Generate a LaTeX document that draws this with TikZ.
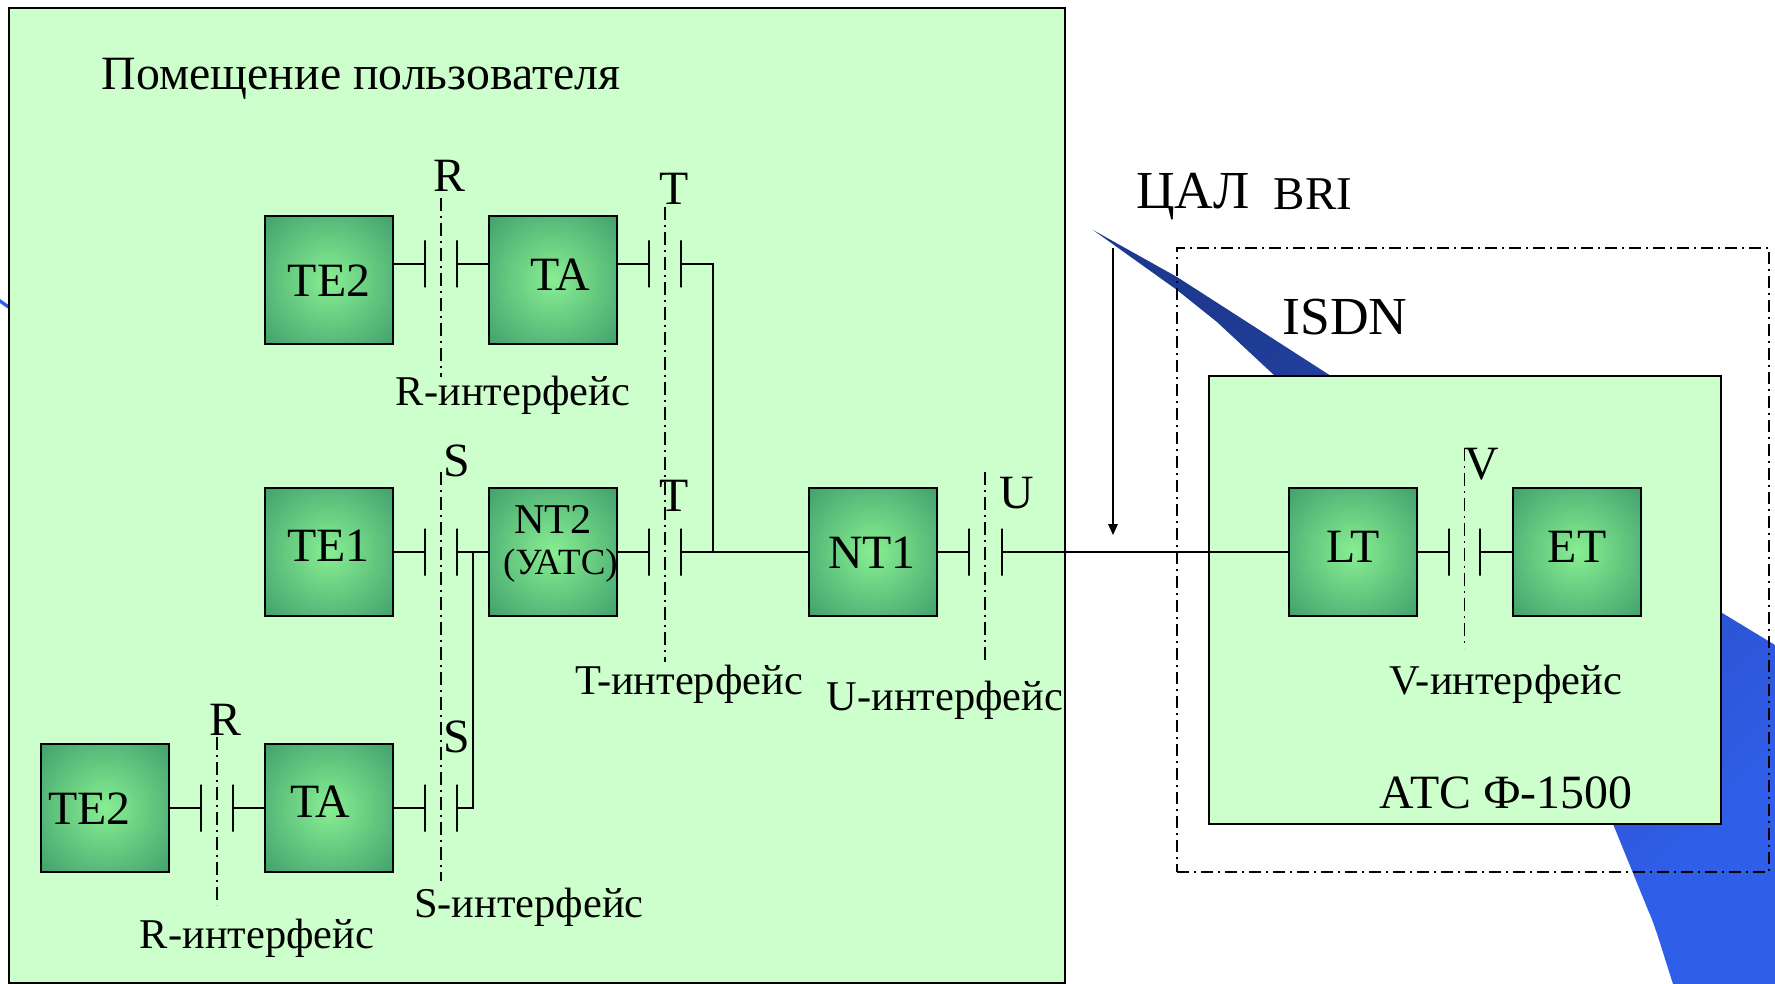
\documentclass[tikz,border=0pt]{standalone}
\usepackage{fontspec}
\setmainfont{Liberation Serif}
\definecolor{panel}{HTML}{CCFFCC}
\definecolor{boxin}{HTML}{88EE92}
\definecolor{boxout}{HTML}{40A06C}
\definecolor{blueA}{HTML}{1E3A90}
\definecolor{blueM}{HTML}{2748B8}
\definecolor{blueB}{HTML}{2F5EE8}
\pgfdeclareradialshading{unitglow}{\pgfpointorigin}{color(0bp)=(boxin); color(36bp)=(boxout); color(70.7bp)=(boxout)}
\tikzset{
  panelbox/.style={draw=black,line width=2pt,fill=panel,inner sep=0pt},
  unit/.style={draw=black,line width=2.1pt,inner sep=0pt,minimum width=128pt,minimum height=128pt,shading=unitglow},
  plate/.style={draw=black,line width=1.5pt,inner sep=0pt,minimum width=0pt,minimum height=47pt,outer sep=0pt},
  wire/.style={draw=black,line width=1.7pt},
  iface/.style={draw=black,line width=1.4pt,dash pattern=on 13pt off 5pt on 2pt off 5pt},
  boundary/.style={draw=black,line width=1.7pt,dash pattern=on 12pt off 5pt on 2pt off 5pt},
  lblL/.style={inner sep=0pt,font=\fontsize{53.5}{53.5}\selectfont},
  lbl/.style={inner sep=0pt,font=\fontsize{47.8}{47.8}\selectfont},
  lblB/.style={inner sep=0pt,font=\fontsize{47}{47}\selectfont},
  lblS/.style={inner sep=0pt,font=\fontsize{42.4}{42.4}\selectfont},
  lblX/.style={inner sep=0pt,font=\fontsize{37}{37}\selectfont},
}
\begin{document}
\begin{tikzpicture}[x=1pt,y=-1pt]
\useasboundingbox (0,0) rectangle (1775,984);
% background swoosh
\shade[shading=axis,bottom color=blueB,top color=blueA,middle color=blueM,shading angle=45]
  (1093,230) -- (1177,277) -- (1331,376) -- (1775,645) -- (1775,984) -- (1673,984)
  .. controls (1662,950) and (1655,925) .. (1648,910) -- (1613,824) -- (1400,500) -- (1275,376)
  -- (1217,322) -- (1177,290) -- cycle;
\fill[blueB] (0,299) -- (10,306) -- (10,310) -- (0,303) -- cycle;
% panels
\node[panelbox,minimum width=1056pt,minimum height=975pt] (user) at (537,495.5) {};
\node[panelbox,minimum width=512pt,minimum height=448pt] (ats) at (1465,600) {};
\node[boundary,rectangle,inner sep=0pt,minimum width=592pt,minimum height=624pt] (isdn) at (1473,560) {};
% units
\node[unit] (te2a) at (329,280) {};
\node[unit] (taa) at (553,280) {};
\node[unit] (te1) at (329,552) {};
\node[unit] (nt2) at (553,552) {};
\node[unit] (nt1) at (873,552) {};
\node[unit] (te2b) at (105,808) {};
\node[unit] (tab) at (329,808) {};
\node[unit] (lt) at (1353,552) {};
\node[unit] (et) at (1577,552) {};
% plates
\node[plate] (p1l) at (425,264) {};
\node[plate] (p1r) at (457,264) {};
\node[plate] (p2l) at (649,264) {};
\node[plate] (p2r) at (681,264) {};
\node[plate] (p3l) at (425,552) {};
\node[plate] (p3r) at (457,552) {};
\node[plate] (p4l) at (649,552) {};
\node[plate] (p4r) at (681,552) {};
\node[plate] (p5l) at (969,552) {};
\node[plate] (p5r) at (1002,552) {};
\node[plate] (p6l) at (201,808) {};
\node[plate] (p6r) at (233,808) {};
\node[plate] (p7l) at (425,808) {};
\node[plate] (p7r) at (457,808) {};
\node[plate] (p8l) at (1449,552) {};
\node[plate] (p8r) at (1480,552) {};
% connectors
\draw[wire] (te2a.east |- p1l) -- (p1l);
\draw[wire] (p1r) -- (taa.west |- p1r);
\draw[wire] (taa.east |- p2l) -- (p2l);
\draw[wire] (p2r) -| (713,552);
\draw[wire] (te1.east) -- (p3l);
\draw[wire] (p3r) -- (nt2.west);
\draw[wire] (nt2.east) -- (p4l);
\draw[wire] (p4r) -- (nt1.west);
\draw[wire] (nt1.east) -- (p5l);
\draw[wire] (p5r) -- (lt.west);
\draw[wire] (te2b.east) -- (p6l);
\draw[wire] (p6r) -- (tab.west);
\draw[wire] (tab.east) -- (p7l);
\draw[wire] (p7r) -| (473,552);
\draw[wire] (lt.east) -- (p8l);
\draw[wire] (p8r) -- (et.west);
% interface lines
\coordinate (r1t) at (441,198); \coordinate (r1b) at (441,377);
\coordinate (t1t) at (665,207); \coordinate (t1b) at (665,662);
\coordinate (s1t) at (441,472); \coordinate (s1b) at (441,881);
\coordinate (u1t) at (985,472); \coordinate (u1b) at (985,664);
\coordinate (r2t) at (217,737); \coordinate (r2b) at (217,905);
\coordinate (v1t) at (1464.5,448); \coordinate (v1b) at (1464.5,648);
\draw[iface] (r1t) -- (r1b);
\draw[iface] (t1t) -- (t1b);
\draw[iface] (s1t) -- (s1b);
\draw[iface] (u1t) -- (u1b);
\draw[iface] (r2t) -- (r2b);
\draw[iface] (v1t) -- (v1b);
% arrow
\coordinate (ars) at (1113,248); \coordinate (are) at (1113,535);
\fill[black] (1108,524) -- (1118,524) -- (are) -- cycle;
\draw[wire] (ars) -- (1113,526);
% labels
\node[lbl] (t0) at (361,79) {Помещение пользователя};
\node[lbl] (t1) at (449,176) {R};
\node[lbl] (t2) at (674,189) {T};
\node[lbl] (t3) at (329,281) {TE2};
\node[lbl] (t4) at (560.5,275) {TA};
\node[lblS] (t5) at (513,395) {R-интерфейс};
\node[lbl] (t6) at (457,461) {S};
\node[lbl] (t7) at (674,496) {T};
\node[lbl] (t8) at (328.5,546) {TE1};
\node[lblS] (t9) at (553,519) {NT2};
\node[lblX] (t10) at (560.5,566) {(УАТС)};
\node[lbl] (t11) at (872,553) {NT1};
\node[lbl] (t12) at (1017,493) {U};
\node[lblS] (t13) at (689,684) {T-интерфейс};
\node[lblS] (t14) at (945,700) {U-интерфейс};
\node[lbl] (t15) at (225,720) {R};
\node[lbl] (t16) at (457,737) {S};
\node[lbl] (t17) at (89.5,809) {TE2};
\node[lbl] (t18) at (320.5,802) {TA};
\node[lblS] (t19) at (529,907) {S-интерфейс};
\node[lblS] (t20) at (257,938) {R-интерфейс};
\node[lblL] (t21) at (1193,197) {ЦАЛ};
\node[lblB] (t22) at (1313,194) {BRI};
\node[lblL] (t23) at (1345,317) {ISDN};
\node[lbl] (t24) at (1353,547) {LT};
\node[lbl] (t25) at (1577,547) {ET};
\node[lbl] (t26) at (1482,464) {V};
\node[lblS] (t27) at (1505.5,684) {V-интерфейс};
\node[lbl] (t28) at (1506,793) {АТС Ф-1500};
\end{tikzpicture}
\end{document}
